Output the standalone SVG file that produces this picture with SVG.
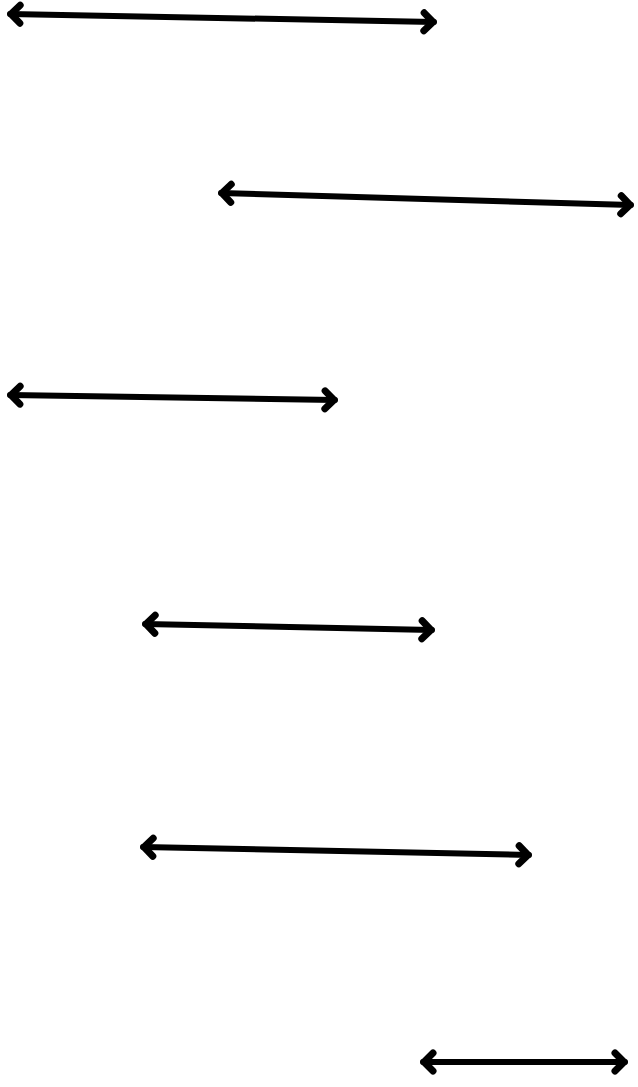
<svg xmlns="http://www.w3.org/2000/svg" width="638" height="1087" viewBox="0 0 638 1087">
<style>
.arr{stroke:#000;stroke-width:6;fill:none;stroke-linecap:round;marker-start:url(#head);marker-end:url(#head)}
</style>
<defs>
<marker id="head" markerUnits="userSpaceOnUse" viewBox="-16 -14 20 28" markerWidth="20" markerHeight="28" refX="0" refY="0" orient="auto-start-reverse" overflow="visible">
<path d="M-10,-9 L-1,0 L-10,9" stroke="#000" stroke-width="7" fill="none" stroke-linecap="round" stroke-linejoin="round"/>
</marker>
</defs>
<rect width="638" height="1087" fill="#fff"/>
<g id="connectors">
<line id="a1" class="arr" x1="10" y1="14" x2="434" y2="22"/>
<line id="a2" class="arr" x1="221" y1="193" x2="631" y2="205"/>
<line id="a3" class="arr" x1="10" y1="395" x2="335" y2="400"/>
<line id="a4" class="arr" x1="145" y1="624" x2="432" y2="630"/>
<line id="a5" class="arr" x1="143" y1="847" x2="529" y2="855"/>
<line id="a6" class="arr" x1="423" y1="1062" x2="625" y2="1062"/>
</g>
</svg>
